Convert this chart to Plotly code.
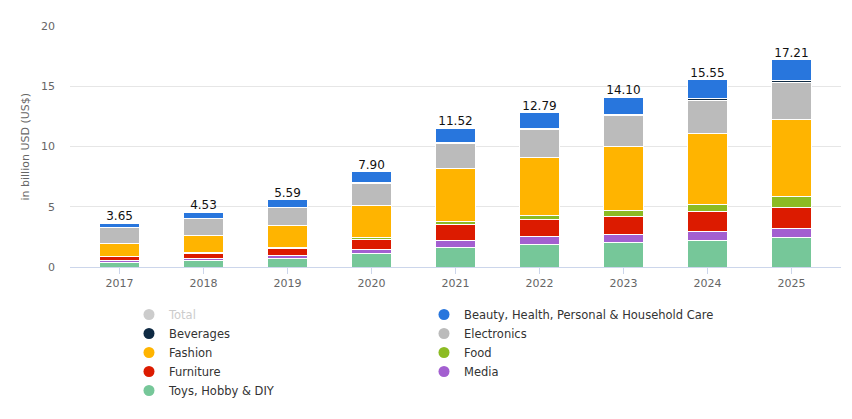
import plotly.graph_objects as go

# online sales by category, billion USD (2017-2025)
years = ['2017', '2018', '2019', '2020', '2021', '2022', '2023', '2024', '2025']

toys        = [0.36, 0.52, 0.69, 1.10, 1.60, 1.85, 2.02, 2.18, 2.43]
media       = [0.17, 0.19, 0.25, 0.36, 0.58, 0.66, 0.66, 0.75, 0.75]
furniture   = [0.33, 0.42, 0.60, 0.85, 1.33, 1.44, 1.49, 1.66, 1.74]
food        = [0.03, 0.04, 0.05, 0.10, 0.27, 0.33, 0.50, 0.61, 0.91]
fashion     = [1.08, 1.43, 1.86, 2.72, 4.40, 4.82, 5.34, 5.86, 6.39]
electronics = [1.32, 1.41, 1.47, 1.83, 2.08, 2.32, 2.55, 2.77, 3.10]
beverages   = [0.02, 0.03, 0.04, 0.05, 0.06, 0.07, 0.08, 0.14, 0.17]
beauty      = [0.34, 0.49, 0.63, 0.89, 1.20, 1.30, 1.46, 1.58, 1.72]
totals      = [3.65, 4.53, 5.59, 7.90, 11.52, 12.79, 14.10, 15.55, 17.21]

# bottom to top
stack = [
    ('Toys, Hobby & DIY', toys, '#76c799', 'legend'),
    ('Media', media, '#a35fd0', 'legend2'),
    ('Furniture', furniture, '#dc1b00', 'legend'),
    ('Food', food, '#8cbb23', 'legend2'),
    ('Fashion', fashion, '#ffb400', 'legend'),
    ('Electronics', electronics, '#bbbbbb', 'legend2'),
    ('Beverages', beverages, '#0f2a43', 'legend'),
    ('Beauty, Health, Personal & Household Care', beauty, '#2876dd', 'legend2'),
]

font = 'DejaVu Sans'

fig = go.Figure()

for name, vals, color, leg in stack:
    fig.add_trace(go.Bar(x=years, y=vals, name=name, legendgroup=name, showlegend=False,
                         marker=dict(color=color, line=dict(color='white', width=1))))

# total labels above the stacks
fig.add_trace(go.Scatter(x=years, y=totals, mode='text', text=[f'{t:.2f}' for t in totals],
                         textposition='top center', showlegend=False, cliponaxis=False,
                         textfont=dict(family=font, size=12, color='#111111')))

# legend entries with round markers
legend_order = ['Beverages', 'Fashion', 'Furniture', 'Toys, Hobby & DIY',
                'Beauty, Health, Personal & Household Care', 'Electronics', 'Food', 'Media']
lookup = {s[0]: s for s in stack}

fig.add_trace(go.Scatter(x=[None], y=[None], mode='markers', name='<span style="color:#cccccc">Total</span>',
                         marker=dict(color='#cccccc', size=11), legend='legend'))
for name in legend_order:
    _, _, color, leg = lookup[name]
    fig.add_trace(go.Scatter(x=[None], y=[None], mode='markers', name=name, legendgroup=name,
                             marker=dict(color=color, size=11), legend=leg))

legend_style = dict(yref='container', xref='container', yanchor='top', xanchor='left',
                    orientation='v', tracegroupgap=0, bgcolor='rgba(0,0,0,0)',
                    font=dict(family=font, size=11.5, color='#333333'))

fig.update_layout(
    width=852, height=419,
    margin=dict(l=62, r=19, t=18, b=160, autoexpand=False),
    barmode='stack', bargap=0.524,
    plot_bgcolor='white', paper_bgcolor='white',
    font=dict(family=font, size=11, color='#666666'),
    legend=dict(x=121 / 852, y=1 - 292 / 419, **legend_style),
    legend2=dict(x=416 / 852, y=1 - 292 / 419, **legend_style),
    xaxis=dict(type='category', range=[-0.59, 8.59], showgrid=False,
               showline=True, linecolor='#ccd6eb', linewidth=1,
               ticks='outside', ticklen=6, tickcolor='#ccd6eb',
               tickfont=dict(family=font, size=11, color='#666666')),
    yaxis=dict(range=[0, 20], dtick=5, showgrid=True, gridcolor='#e6e6e6',
               zeroline=False, showline=False, ticklabelstandoff=14,
               tickfont=dict(family=font, size=11, color='#666666')),
    annotations=[dict(text='in billion USD (US$)', textangle=-90, showarrow=False,
                      xref='paper', yref='paper', x=0, y=0.5, xshift=-45,
                      xanchor='center', yanchor='middle',
                      font=dict(family=font, size=11, color='#666666'))],
)

fig.write_html('out.html')
